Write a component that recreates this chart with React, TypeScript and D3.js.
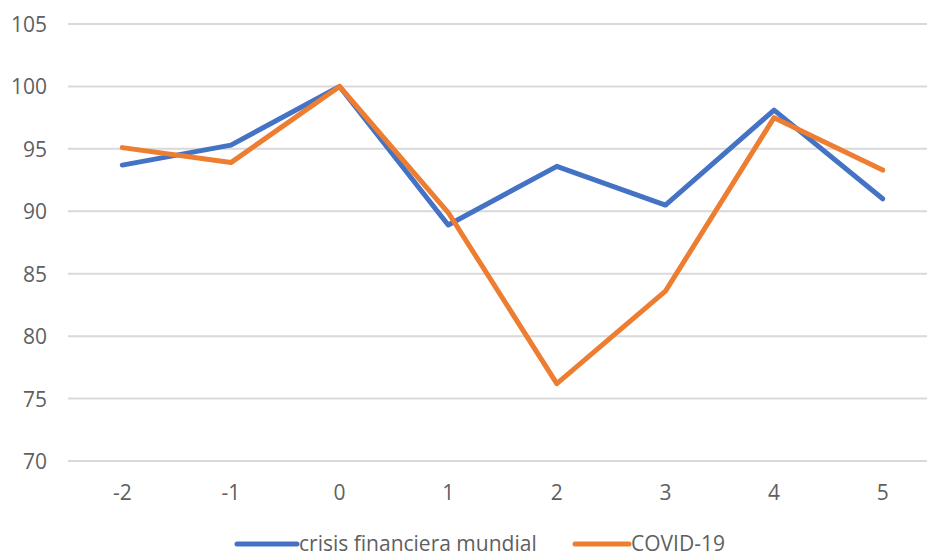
import { useMemo } from 'react';
import * as d3 from 'd3';

const categories = ['-2', '-1', '0', '1', '2', '3', '4', '5'];
const crisisValues = [93.7, 95.3, 100, 88.9, 93.6, 90.5, 98.1, 91.0];
const covidValues = [95.1, 93.9, 100, 89.9, 76.2, 83.6, 97.5, 93.3];
const yTickValues = [70, 75, 80, 85, 90, 95, 100, 105];

const series = [
  { name: 'crisis financiera mundial', values: crisisValues, color: '#4472C4' },
  { name: 'COVID-19', values: covidValues, color: '#ED7D31' },
];

const WIDTH = 927;
const HEIGHT = 556;
const FONT = '"Open Sans", "Noto Sans", sans-serif';

export default function App() {
  const margin = { top: 24, right: -10, bottom: 95, left: 68 };
  const innerWidth = WIDTH - margin.left - margin.right;
  const innerHeight = HEIGHT - margin.top - margin.bottom;

  const { x, y, lineGen } = useMemo(() => {
    const x = d3.scaleBand().domain(categories).range([0, innerWidth]);
    const y = d3.scaleLinear().domain([70, 105]).range([innerHeight, 0]);
    const lineGen = d3
      .line<number>()
      .x((_, i) => (x(categories[i]) ?? 0) + x.bandwidth() / 2)
      .y((d) => y(d));
    return { x, y, lineGen };
  }, [innerWidth, innerHeight]);

  const legendItems = [
    { ...series[0], lineX: 237, lineW: 60, textX: 299 },
    { ...series[1], lineX: 575, lineW: 54, textX: 631 },
  ];

  return (
    <svg
      width={WIDTH}
      height={HEIGHT}
      style={{ position: 'absolute', left: 0, top: 0, background: '#fff' }}
    >
      <g transform={`translate(${margin.left},${margin.top})`}>
        {/* Grid */}
        {yTickValues.map((t) => (
          <line
            key={`g-${t}`}
            x1={0}
            x2={innerWidth}
            y1={y(t)}
            y2={y(t)}
            stroke="#d9d9d9"
            strokeWidth={2}
          />
        ))}

        {/* Y labels */}
        {yTickValues.map((t) => (
          <text
            key={`yl-${t}`}
            x={-21}
            y={y(t)}
            textAnchor="end"
            dominantBaseline="central"
            fill="#5f5f5f"
            fontSize={21}
            fontFamily={FONT}
          >
            {t}
          </text>
        ))}

        {/* X labels */}
        {categories.map((c) => (
          <text
            key={`xl-${c}`}
            x={(x(c) ?? 0) + x.bandwidth() / 2}
            y={innerHeight + 31}
            textAnchor="middle"
            dominantBaseline="central"
            fill="#5f5f5f"
            fontSize={21}
            fontFamily={FONT}
          >
            {c}
          </text>
        ))}

        {/* Lines */}
        {series.map((s) => (
          <path
            key={s.name}
            d={lineGen(s.values) ?? ''}
            fill="none"
            stroke={s.color}
            strokeWidth={5}
            strokeLinejoin="round"
            strokeLinecap="round"
          />
        ))}
      </g>

      {/* Legend */}
      {legendItems.map((l) => (
        <g key={`lg-${l.name}`}>
          <line
            x1={l.lineX}
            x2={l.lineX + l.lineW}
            y1={544}
            y2={544}
            stroke={l.color}
            strokeWidth={5}
            strokeLinecap="round"
          />
          <text
            x={l.textX}
            y={543}
            dominantBaseline="central"
            fill="#5f5f5f"
            fontSize={21}
            fontFamily={FONT}
          >
            {l.name}
          </text>
        </g>
      ))}
    </svg>
  );
}
